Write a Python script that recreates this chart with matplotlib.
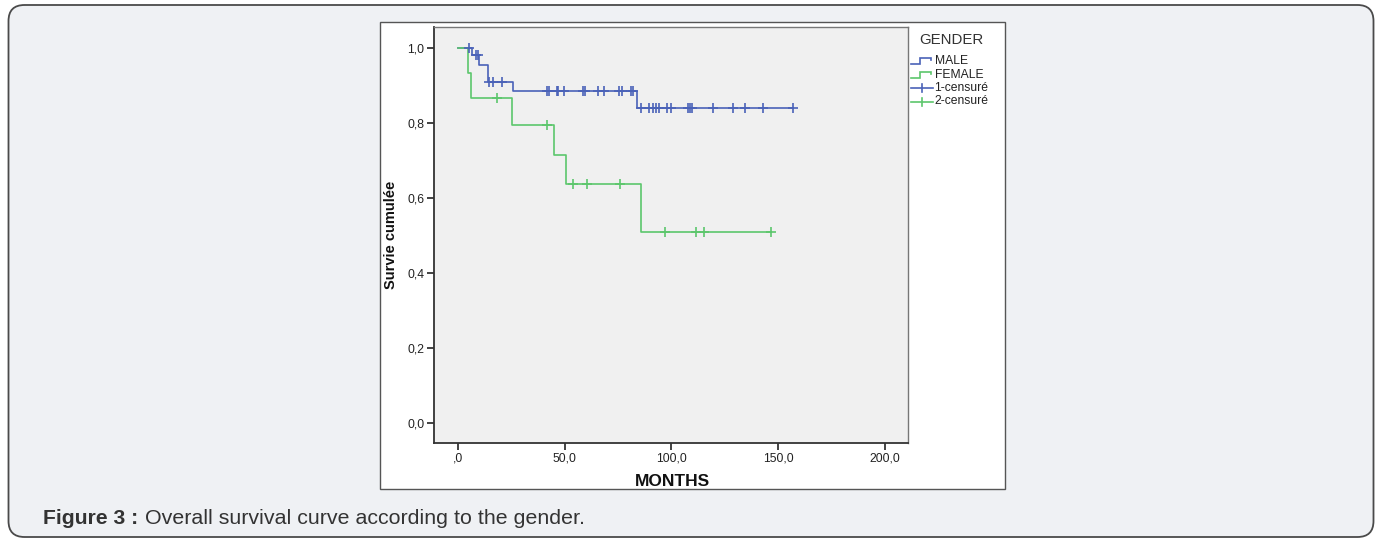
import numpy as np
import matplotlib
matplotlib.use("Agg")
import matplotlib.pyplot as plt
from matplotlib.patches import FancyBboxPatch, Rectangle

plt.rcParams['font.family'] = ['Liberation Sans', 'DejaVu Sans']

# ---- data ----
male_event_times = [0, 6.4, 10.0, 14.2, 25.9, 83.7, 156.8]
male_surv = [1.0, 0.981, 0.956, 0.910, 0.886, 0.841, 0.841]
male_censor_times = [5.0, 8.3, 9.2, 14.4, 16.5, 20.5,
                     41.5, 42.6, 46.2, 47.0, 49.6, 58.4, 59.5, 65.6, 68.4,
                     75.6, 76.8, 80.9, 82.1,
                     85.6, 89.6, 91.5, 92.6, 94.0, 97.8, 99.8, 107.9, 108.7,
                     109.5, 119.6, 128.9, 134.4, 143.0, 156.8]

female_event_times = [0, 4.6, 6.2, 25.2, 45.0, 50.6, 85.6, 146.6]
female_surv = [1.0, 0.933, 0.867, 0.795, 0.716, 0.637, 0.510, 0.510]
female_censor_times = [18.1, 41.5, 53.7, 60.3, 75.9, 96.8, 111.3, 115.2, 146.6]

x_ticks = [0, 50, 100, 150, 200]
x_tick_labels = [",0", "50,0", "100,0", "150,0", "200,0"]
y_ticks = [0.0, 0.2, 0.4, 0.6, 0.8, 1.0]
y_tick_labels = ["0,0", "0,2", "0,4", "0,6", "0,8", "1,0"]

legend_title = "GENDER"
legend_labels = ["MALE", "FEMALE", "1-censuré", "2-censuré"]

BLUE = '#4a62b8'
GREEN = '#5cc66c'

W, H = 1380, 540
fig = plt.figure(figsize=(W / 100, H / 100), dpi=100)
fig.patch.set_facecolor('white')

# background / decoration axes in pixel coordinates
bg = fig.add_axes([0, 0, 1, 1], zorder=0)
bg.set_xlim(0, W)
bg.set_ylim(H, 0)
bg.axis('off')

card = FancyBboxPatch((8.5, 5), 1365, 532, boxstyle="round,pad=0,rounding_size=16",
                      facecolor='#eff1f4', edgecolor='#4a4a4a', linewidth=1.3)
bg.add_patch(card)
bg.add_patch(Rectangle((379.5, 22), 625, 467, facecolor='white',
                       edgecolor='#555555', linewidth=1.0))

# caption
bg.text(43, 518, "Figure 3 :", fontsize=15.2, fontweight='bold', color='#333333',
        ha='left', va='center')
bg.text(145, 518, "Overall survival curve according to the gender.", fontsize=15.4,
        color='#333333', ha='left', va='center')

# axis labels
bg.text(672, 481, "MONTHS", fontsize=12.5, fontweight='bold', ha='center', va='center',
        color='#111111')
bg.text(391, 235, "Survie cumulée", fontsize=10.5, fontweight='bold', rotation=90,
        ha='center', va='center', color='#111111')

# legend
bg.text(919, 40, legend_title, fontsize=10.8, ha='left', va='center', color='#333333')
ly = [61, 74.5, 88, 101.5]
for i, (lab, col) in enumerate(zip(legend_labels, [BLUE, GREEN, BLUE, GREEN])):
    y = ly[i]
    if i < 2:
        bg.plot([911, 920, 920, 931, 931], [y + 3, y + 3, y - 3, y - 3, y - 1],
                color=col, lw=1.2, solid_joinstyle='miter')
    else:
        bg.plot([911, 933], [y, y], color=col, lw=1.2)
        bg.plot([922, 922], [y - 4, y + 4], color=col, lw=1.2)
    bg.text(935 if i < 2 else 934, y, lab, fontsize=8.7, ha='left', va='center',
            color='#222222')

# plot axes
L, R, T, B = 434, 908, 26.7, 443
ax = fig.add_axes([L / W, 1 - B / H, (R - L) / W, (B - T) / H], zorder=2)
ax.set_facecolor('#f0f0f0')
ax.set_xlim(-11.2, 210.8)
ax.set_ylim(-0.053, 1.057)

ax.step(male_event_times, male_surv, where='post', color=BLUE, lw=1.2)
ax.step(female_event_times, female_surv, where='post', color=GREEN, lw=1.2)


def surv_at(times, surv, t):
    idx = np.searchsorted(times, t, side='right') - 1
    return np.asarray(surv)[idx]


mct = np.array(male_censor_times)
ax.plot(mct, surv_at(male_event_times, male_surv, mct), ls='none', marker='+',
        ms=7, mew=1.2, color=BLUE)
fct = np.array(female_censor_times)
ax.plot(fct, surv_at(female_event_times, female_surv, fct), ls='none', marker='+',
        ms=7, mew=1.2, color=GREEN)

ax.set_xticks(x_ticks)
ax.set_xticklabels(x_tick_labels)
ax.set_yticks(y_ticks)
ax.set_yticklabels(y_tick_labels)
ax.tick_params(axis='both', direction='out', length=5, width=1.2, labelsize=8.7,
               colors='#222222', pad=2)

for s in ['left', 'bottom']:
    ax.spines[s].set_color('#333333')
    ax.spines[s].set_linewidth(1.3)
for s in ['top', 'right']:
    ax.spines[s].set_color('#777777')
    ax.spines[s].set_linewidth(1.0)

fig.savefig('out.png', dpi=100, facecolor=fig.get_facecolor())
